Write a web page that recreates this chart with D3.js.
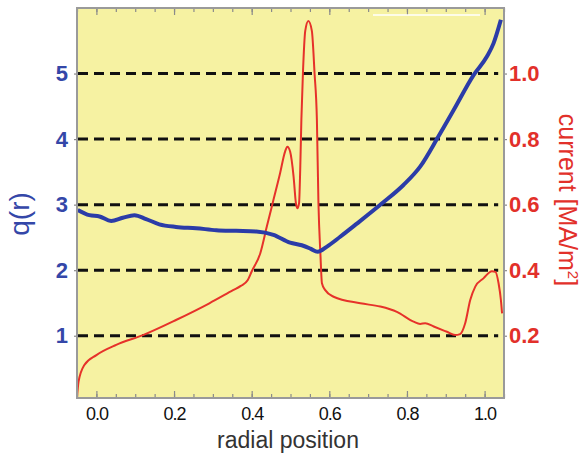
<!DOCTYPE html>
<html>
<head>
<meta charset="utf-8">
<script src="https://cdn.jsdelivr.net/npm/d3@7"></script>
<style>
  body { margin: 0; background: #fff; }
  svg { display: block; font-family: "Liberation Sans", Arial, Helvetica, sans-serif; }
</style>
</head>
<body>
<div id="chart"></div>
<script>
// q(r) profile (blue, left axis)
const rQ = [-0.048, -0.018, 0.008, 0.038, 0.068, 0.098, 0.128, 0.162, 0.205, 0.257,
            0.309, 0.36, 0.412, 0.456, 0.499, 0.529, 0.551, 0.57, 0.594, 0.628,
            0.671, 0.736, 0.791, 0.834, 0.881, 0.92, 0.972, 1.006, 1.023, 1.042];
const qValues = [2.92, 2.84, 2.82, 2.75, 2.80, 2.84, 2.78, 2.70, 2.66, 2.64,
                 2.61, 2.60, 2.59, 2.54, 2.42, 2.38, 2.33, 2.28, 2.36, 2.51,
                 2.71, 3.02, 3.30, 3.58, 4.04, 4.44, 4.98, 5.26, 5.46, 5.82];

// current density profile (red, right axis)
const rJ = [-0.05, -0.046, -0.031, 0, 0.051, 0.12, 0.205, 0.291, 0.352, 0.372,
            0.39, 0.40, 0.422, 0.439, 0.456, 0.473, 0.486, 0.492, 0.499, 0.508,
            0.514, 0.518, 0.522, 0.525, 0.528, 0.532, 0.538, 0.546, 0.555, 0.562,
            0.568, 0.572, 0.577, 0.581, 0.589, 0.611, 0.68, 0.731, 0.774, 0.817,
            0.834, 0.847, 0.869, 0.903, 0.924, 0.937, 0.95, 0.963, 0.976, 0.997,
            1.019, 1.028, 1.036, 1.042, 1.045];
const current = [0.01, 0.06, 0.111, 0.141, 0.172, 0.202, 0.248, 0.299, 0.339, 0.352,
                 0.37, 0.396, 0.451, 0.533, 0.614, 0.695, 0.762, 0.777, 0.762, 0.685,
                 0.604, 0.589, 0.604, 0.706, 0.858, 1.0, 1.13, 1.16, 1.13, 1.0,
                 0.858, 0.604, 0.451, 0.36, 0.34, 0.319, 0.299, 0.289, 0.273, 0.243,
                 0.236, 0.238, 0.228, 0.212, 0.202, 0.205, 0.238, 0.309, 0.35, 0.375,
                 0.397, 0.395, 0.36, 0.309, 0.268];

// tick values
const xMajor = [0, 0.2, 0.4, 0.6, 0.8, 1.0];
const xMinor = d3.range(-0.05, 1.06, 0.05);
const qTicks = [1, 2, 3, 4, 5];
const jTicks = [0.2, 0.4, 0.6, 0.8, 1.0];

const W = 584, H = 453;
const plot = { left: 77, right: 504, top: 8, bottom: 398 };

const svg = d3.select('#chart').append('svg')
    .attr('width', W)
    .attr('height', H);

const x = d3.scaleLinear().domain([-0.05, 1.05]).range([plot.left, plot.right]);
const yQ = d3.scaleLinear().domain([0.05, 6.0]).range([plot.bottom, plot.top]);
const yJ = d3.scaleLinear().domain([0.01, 1.2]).range([plot.bottom, plot.top]);

// background
svg.append('rect')
    .attr('x', plot.left).attr('y', plot.top)
    .attr('width', plot.right - plot.left)
    .attr('height', plot.bottom - plot.top)
    .attr('fill', '#f6f2a2');

// dashed reference lines
svg.append('g').selectAll('line')
    .data(qTicks)
    .enter().append('line')
    .attr('x1', plot.left + 1)
    .attr('x2', x(1.035))
    .attr('y1', d => yQ(d))
    .attr('y2', d => yQ(d))
    .attr('stroke', '#111')
    .attr('stroke-width', 3)
    .attr('stroke-dasharray', '10,6');

// curves
const line = d3.line().curve(d3.curveMonotoneX);

svg.append('path')
    .attr('d', line(rJ.map((r, i) => [x(r), yJ(current[i])])))
    .attr('fill', 'none')
    .attr('stroke', '#e6322a')
    .attr('stroke-width', 2);

svg.append('path')
    .attr('d', line(rQ.map((r, i) => [x(r), yQ(qValues[i])])))
    .attr('fill', 'none')
    .attr('stroke', '#2b3ca8')
    .attr('stroke-width', 4);

// axes
const tickColor = '#8a8a8a';

function styleAxis(g) {
    g.select('.domain').remove();
    g.selectAll('.tick line').attr('stroke', tickColor).attr('stroke-width', 1.2);
}

svg.append('g')
    .attr('transform', `translate(0,${plot.bottom})`)
    .call(d3.axisBottom(x).tickValues(xMinor).tickSize(-4).tickFormat(''))
    .call(styleAxis);
svg.append('g')
    .attr('transform', `translate(0,${plot.top})`)
    .call(d3.axisTop(x).tickValues(xMinor).tickSize(-4).tickFormat(''))
    .call(styleAxis);
svg.append('g')
    .attr('transform', `translate(0,${plot.top})`)
    .call(d3.axisTop(x).tickValues(xMajor).tickSize(-7).tickFormat(''))
    .call(styleAxis);

const xAxis = svg.append('g')
    .attr('transform', `translate(0,${plot.bottom})`)
    .call(d3.axisBottom(x).tickValues(xMajor).tickSize(-7).tickPadding(9).tickFormat(d3.format('.1f')))
    .call(styleAxis);
xAxis.selectAll('text')
    .attr('fill', '#111')
    .style('font-size', '18px')
    .style('letter-spacing', '-1px');

const qAxis = svg.append('g')
    .attr('transform', `translate(${plot.left},0)`)
    .call(d3.axisLeft(yQ).tickValues(qTicks).tickSize(3).tickPadding(6).tickFormat(d3.format('d')))
    .call(styleAxis);
qAxis.selectAll('text')
    .attr('fill', '#3447a8')
    .style('font-size', '22px')
    .style('font-weight', 'bold');

const jAxis = svg.append('g')
    .attr('transform', `translate(${plot.right},0)`)
    .call(d3.axisRight(yJ).tickValues(jTicks).tickSize(3).tickPadding(2).tickFormat(d3.format('.1f')))
    .call(styleAxis);
jAxis.selectAll('text')
    .attr('fill', '#e2302a')
    .style('font-size', '22px')
    .style('font-weight', 'bold');

// frame
svg.append('rect')
    .attr('x', plot.left).attr('y', plot.top)
    .attr('width', plot.right - plot.left)
    .attr('height', plot.bottom - plot.top)
    .attr('fill', 'none')
    .attr('stroke', '#9a9a9a')
    .attr('stroke-width', 2);

// stray white line near the top
svg.append('line')
    .attr('x1', 373).attr('x2', 480)
    .attr('y1', 15).attr('y2', 15)
    .attr('stroke', '#fff')
    .attr('stroke-width', 1.5);

// axis titles
svg.append('text')
    .attr('x', 288)
    .attr('y', 448)
    .attr('text-anchor', 'middle')
    .attr('fill', '#333')
    .style('font-size', '23px')
    .text('radial position');

svg.append('text')
    .attr('transform', 'translate(29,214) rotate(-90)')
    .attr('text-anchor', 'middle')
    .attr('fill', '#3447a8')
    .style('font-size', '28px')
    .text('q(r)');

const jTitle = svg.append('text')
    .attr('transform', 'translate(559,200) rotate(90)')
    .attr('text-anchor', 'middle')
    .attr('fill', '#e2302a')
    .style('font-size', '25px');
jTitle.append('tspan').text('current [MA/m');
jTitle.append('tspan').attr('dy', -9).style('font-size', '15px').text('2');
jTitle.append('tspan').attr('dy', 9).text(']');
</script>
</body>
</html>
